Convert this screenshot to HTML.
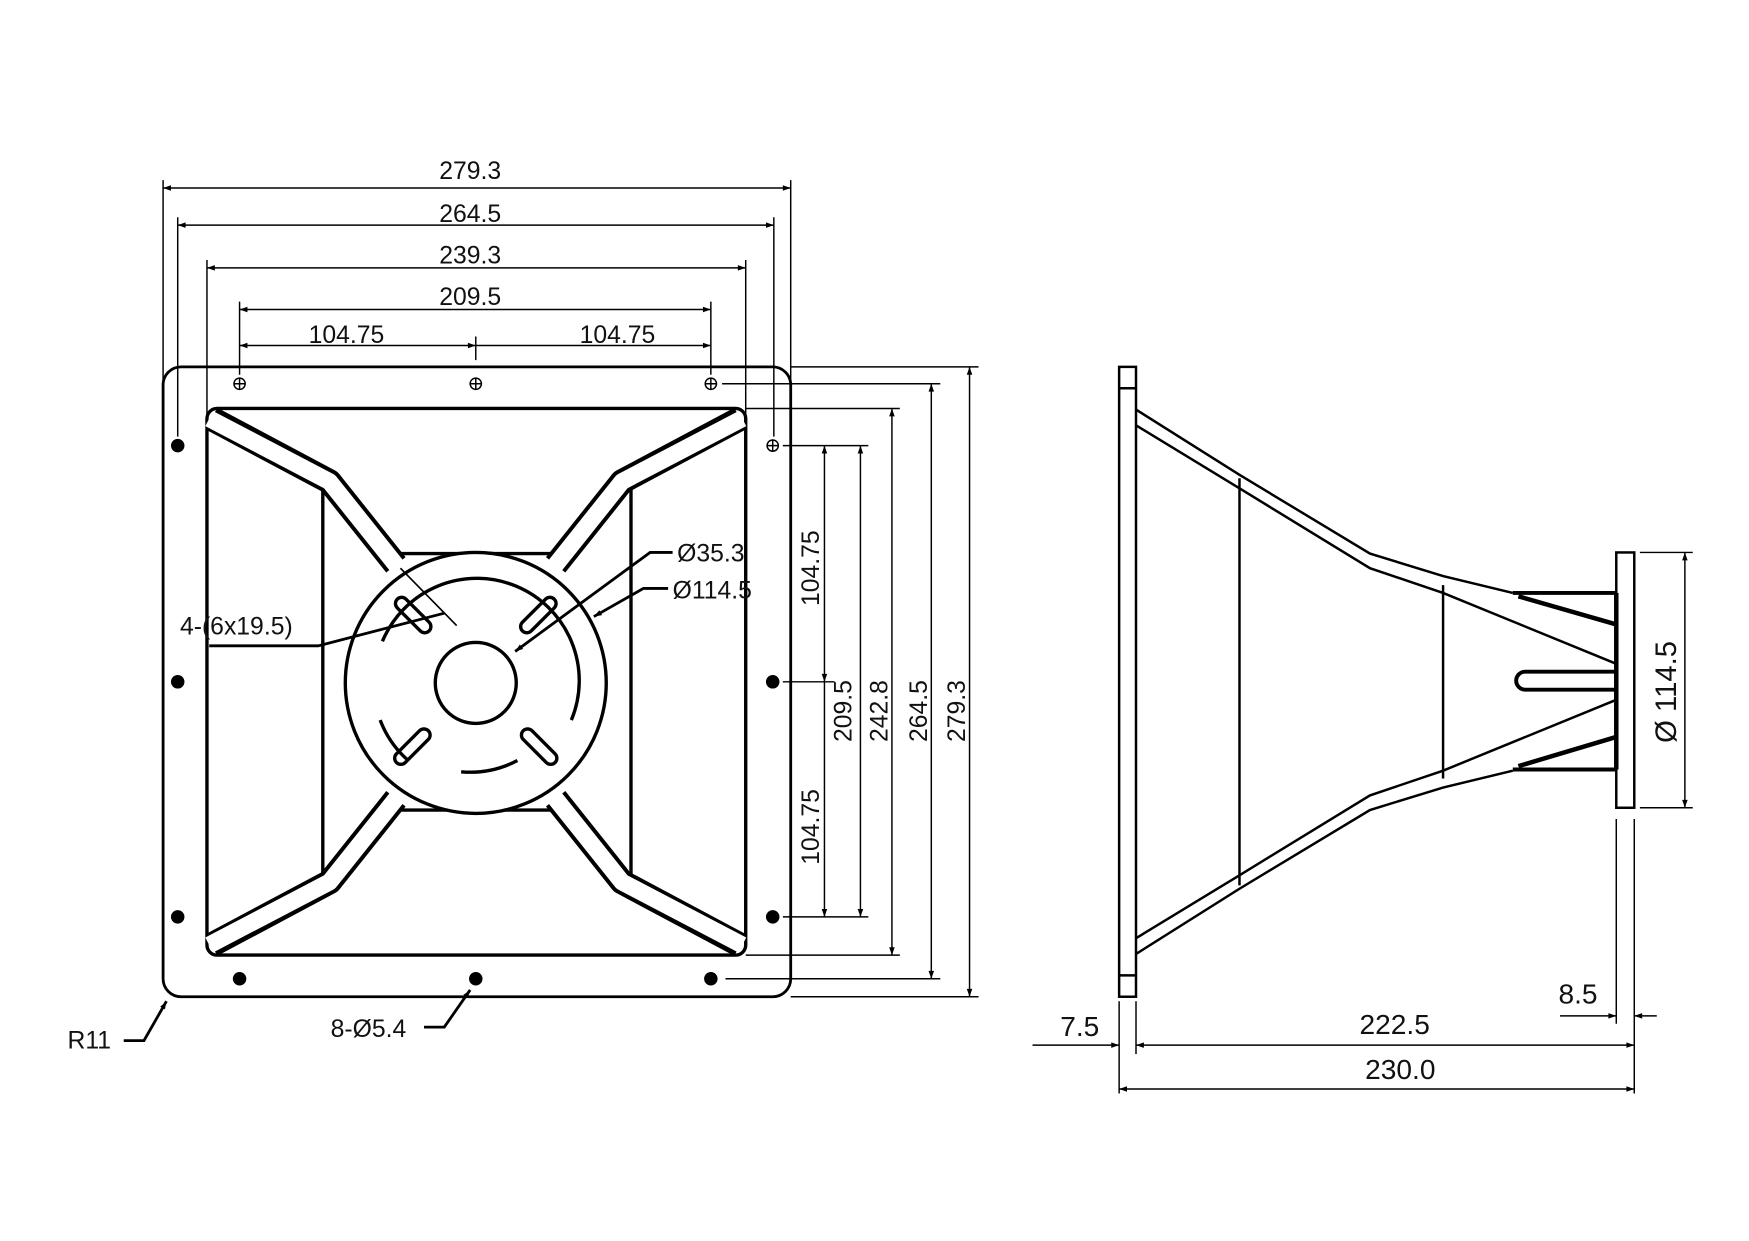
<!DOCTYPE html>
<html><head><meta charset="utf-8"><style>
html,body{margin:0;padding:0;background:#fff;}
svg{display:block;}
text{font-family:"Liberation Sans",sans-serif;font-size:22px;fill:#111;}
</style></head><body>
<svg width="1749" height="1241" viewBox="0 0 1555 1103" xmlns="http://www.w3.org/2000/svg">
<defs>
<marker id="a" viewBox="0 0 10 10" refX="10" refY="5" markerWidth="9" markerHeight="7" orient="auto-start-reverse" markerUnits="userSpaceOnUse"><path d="M0,1.5 L10,5 L0,8.5 z" fill="#000"/></marker>
</defs>
<g stroke="#000" fill="none" stroke-width="1.3">
<line x1="145" y1="167" x2="703" y2="167" marker-start="url(#a)" marker-end="url(#a)"/>
<line x1="158" y1="200" x2="688" y2="200" marker-start="url(#a)" marker-end="url(#a)"/>
<line x1="184" y1="238" x2="663" y2="238" marker-start="url(#a)" marker-end="url(#a)"/>
<line x1="213" y1="275" x2="632" y2="275" marker-start="url(#a)" marker-end="url(#a)"/>
<line x1="213" y1="307" x2="423" y2="307" marker-start="url(#a)" marker-end="url(#a)"/>
<line x1="423" y1="307" x2="632" y2="307" marker-end="url(#a)"/>
<line x1="423" y1="299" x2="423" y2="320"/>
<line x1="145" y1="160" x2="145" y2="345"/><line x1="703" y1="160" x2="703" y2="345"/>
<line x1="158" y1="193" x2="158" y2="388"/><line x1="688" y1="193" x2="688" y2="388"/>
<line x1="184" y1="231" x2="184" y2="368"/><line x1="663" y1="231" x2="663" y2="368"/>
<line x1="213" y1="268" x2="213" y2="333"/><line x1="632" y1="268" x2="632" y2="333"/>
<line x1="703" y1="326" x2="870" y2="326"/><line x1="703" y1="886" x2="870" y2="886"/>
<line x1="862" y1="326" x2="862" y2="886" marker-start="url(#a)" marker-end="url(#a)"/>
<line x1="642" y1="341" x2="836" y2="341"/><line x1="645" y1="870" x2="836" y2="870"/>
<line x1="828" y1="341" x2="828" y2="870" marker-start="url(#a)" marker-end="url(#a)"/>
<line x1="663" y1="363" x2="800" y2="363"/><line x1="663" y1="849" x2="800" y2="849"/>
<line x1="793" y1="363" x2="793" y2="849" marker-start="url(#a)" marker-end="url(#a)"/>
<line x1="696" y1="396" x2="772" y2="396"/><line x1="696" y1="815" x2="772" y2="815"/>
<line x1="765" y1="396" x2="765" y2="815" marker-start="url(#a)" marker-end="url(#a)"/>
<line x1="733" y1="396" x2="733" y2="606" marker-start="url(#a)" marker-end="url(#a)"/>
<line x1="733" y1="606" x2="733" y2="815" marker-end="url(#a)"/>
<line x1="696" y1="606" x2="742" y2="606"/>
</g>
<g stroke="#000" fill="none">
<rect x="145" y="326" width="558" height="560" rx="16" stroke-width="2.5"/>
<rect x="184" y="363" width="479" height="486" rx="9" stroke-width="3"/>
<line x1="287" y1="430" x2="287" y2="785" stroke-width="3"/>
<line x1="561" y1="430" x2="561" y2="785" stroke-width="3"/>
<line x1="352" y1="492" x2="494" y2="492" stroke-width="3"/>
<line x1="352" y1="720" x2="494" y2="720" stroke-width="3"/>
<g stroke-linejoin="round" stroke-linecap="butt">
<g stroke="#000" stroke-width="22">
<polyline points="188,372 293,428 352,502"/><polyline points="658,372 553,428 494,502"/>
<polyline points="188,840 293,784 352,710"/><polyline points="658,840 553,784 494,710"/>
</g>
<g stroke="#fff" stroke-width="15">
<polyline points="186,372 293,428 356,507"/><polyline points="660,372 553,428 490,507"/>
<polyline points="186,840 293,784 356,705"/><polyline points="660,840 553,784 490,705"/>
</g>
</g>
<circle cx="423" cy="607" r="116" stroke-width="3" fill="#fff"/>
<circle cx="423" cy="607" r="36" stroke-width="3"/>
<path d="M340,570 A90,90 0 0 1 508,640" stroke-width="3"/>
<path d="M338,640 A90,90 0 0 0 363,676" stroke-width="3"/>
<path d="M410,686 A90,90 0 0 0 460,676" stroke-width="3"/>
<g stroke-width="3">
<rect x="347" y="541" width="40" height="11" rx="5.5" transform="rotate(45 367 547)"/>
<rect x="459" y="541" width="40" height="11" rx="5.5" transform="rotate(-45 479 547)"/>
<rect x="347" y="658" width="40" height="11" rx="5.5" transform="rotate(-45 367 664)"/>
<rect x="459" y="658" width="40" height="11" rx="5.5" transform="rotate(45 479 664)"/>
</g>
</g>
<g fill="#000">
<circle cx="158" cy="396" r="6"/><circle cx="158" cy="606" r="6"/><circle cx="158" cy="815" r="6"/>
<circle cx="213" cy="870" r="6"/><circle cx="423" cy="870" r="6"/><circle cx="632" cy="870" r="6"/>
<circle cx="687" cy="606" r="6"/><circle cx="687" cy="815" r="6"/>
</g>
<g stroke="#000" fill="none" stroke-width="1.3">
<circle cx="213" cy="341" r="5"/><path d="M208,341h10M213,336v10"/>
<circle cx="423" cy="341" r="5"/><path d="M418,341h10M423,336v10"/>
<circle cx="632" cy="341" r="5"/><path d="M627,341h10M632,336v10"/>
<circle cx="687" cy="396" r="5"/><path d="M682,396h10M687,391v10"/>
</g>
<g stroke="#000" fill="none" stroke-width="2.5">
<polyline points="598,491 578,491 458,579" marker-end="url(#a)"/>
<polyline points="594,523 572,523 528,548" marker-end="url(#a)"/>
<polyline points="186,574 283,574 395,545"/>
<line x1="356" y1="505" x2="406" y2="556" stroke-width="1.5"/>
<polyline points="110,925 128,925 148,890" marker-end="url(#a)"/>
<polyline points="377,913 395,913 418,880" marker-end="url(#a)"/>
</g>
<text x="160" y="564">4-(6x19.5)</text>
<text x="602" y="499">Ø35.3</text>
<text x="598" y="532">Ø114.5</text>
<text x="60" y="932">R11</text>
<text x="294" y="922">8-Ø5.4</text>
<g text-anchor="middle">
<text x="418" y="159">279.3</text>
<text x="418" y="197">264.5</text>
<text x="418" y="234">239.3</text>
<text x="418" y="271">209.5</text>
<text x="308" y="305">104.75</text>
<text x="549" y="305">104.75</text>
<text transform="translate(728,505) rotate(-90)">104.75</text>
<text transform="translate(728,735) rotate(-90)">104.75</text>
<text transform="translate(757,632) rotate(-90)">209.5</text>
<text transform="translate(789,632) rotate(-90)">242.8</text>
<text transform="translate(824,632) rotate(-90)">264.5</text>
<text transform="translate(858,632) rotate(-90)">279.3</text>
<text transform="translate(1490,615) rotate(-90)" style="font-size:26px">Ø 114.5</text>
<text x="960" y="921" style="font-size:25px">7.5</text>
<text x="1240" y="919" style="font-size:25px">222.5</text>
<text x="1245" y="959" style="font-size:25px">230.0</text>
<text x="1403" y="892" style="font-size:25px">8.5</text>
</g>
<g stroke="#000" fill="none" stroke-width="2.2">
<rect x="995" y="326" width="15" height="560"/>
<line x1="995" y1="345" x2="1010" y2="345"/><line x1="995" y1="867" x2="1010" y2="867"/>
<polyline points="1010,364 1102,422 1218,492 1283,512 1345,527"/>
<polyline points="1010,848 1102,790 1218,720 1283,700 1345,685"/>
<polyline points="1010,378 1102,434 1218,505 1283,527 1437,590"/>
<polyline points="1010,834 1102,778 1218,707 1283,685 1437,622"/>
<line x1="1102" y1="425" x2="1102" y2="787"/>
<line x1="1283" y1="520" x2="1283" y2="692"/>
<line x1="1345" y1="527" x2="1437" y2="527" stroke-width="3.5"/><line x1="1345" y1="684" x2="1437" y2="684" stroke-width="3.5"/>
<polyline points="1350,530 1437,555" stroke-width="4"/><polyline points="1350,681 1437,655" stroke-width="4"/>
<line x1="1437" y1="527" x2="1437" y2="684" stroke-width="4"/>
<rect x="1437" y="491" width="16" height="227"/>
<path d="M1437,597 H1356 a6,6 0 0 0 0,16 H1437" stroke-width="3.5"/>
</g>
<g stroke="#000" fill="none" stroke-width="1.3">
<line x1="1458" y1="491" x2="1505" y2="491"/><line x1="1458" y1="718" x2="1505" y2="718"/>
<line x1="1498" y1="491" x2="1498" y2="718" marker-start="url(#a)" marker-end="url(#a)"/>
<line x1="995" y1="890" x2="995" y2="972"/><line x1="1010" y1="890" x2="1010" y2="937"/>
<line x1="1453" y1="728" x2="1453" y2="972"/><line x1="1437" y1="728" x2="1437" y2="910"/>
<line x1="918" y1="929" x2="995" y2="929" marker-end="url(#a)"/>
<line x1="1010" y1="929" x2="1453" y2="929" marker-start="url(#a)" marker-end="url(#a)"/>
<line x1="995" y1="968" x2="1453" y2="968" marker-start="url(#a)" marker-end="url(#a)"/>
<line x1="1387" y1="903" x2="1437" y2="903" marker-end="url(#a)"/>
<line x1="1473" y1="903" x2="1453" y2="903" marker-end="url(#a)"/>
</g>
</svg>
</body></html>
